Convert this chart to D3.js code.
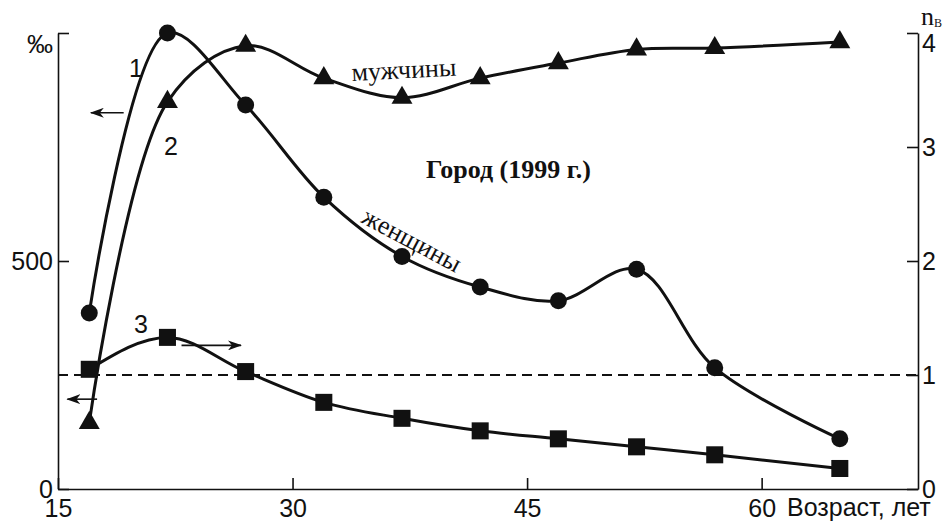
<!DOCTYPE html>
<html lang="ru">
  <head>
    <meta charset="UTF-8" />
    <title>Город (1999 г.)</title>
    <script src="https://d3js.org/d3.v7.min.js"></script>
    <style>
      body { margin: 0; background: #fff; }
      text { fill: #111; }
    </style>
  </head>
  <body>
    <svg width="947" height="524"></svg>
    <script>
      // ages (x) shared by all three curves
      const ages = [17, 22, 27, 32, 37, 42, 47, 52, 57, 65];
      // curve 1, women, ‰ (left axis)
      const women = [386, 1000, 842, 640, 510, 443, 413, 482, 266, 110];
      // curve 2, men, ‰ (left axis)
      const men = [145, 849, 972, 901, 858, 901, 934, 964, 967, 980];
      // curve 3, n_B (right axis)
      const nB = [1.05, 1.33, 1.03, 0.76, 0.62, 0.51, 0.44, 0.37, 0.3, 0.18];

      const xTicks = [15, 30, 45, 60];
      const leftTicks = [0, 500, 1000];
      const rightTicks = [0, 1, 2, 3, 4];

      const svg = d3.select("svg");
      const sans = "'Liberation Sans', Arial, sans-serif";
      const serif = "'Liberation Serif', 'Times New Roman', serif";

      const x = d3.scaleLinear().domain([15, 70]).range([58, 918]);
      const yL = d3.scaleLinear().domain([0, 1000]).range([489, 33]);
      const yR = d3.scaleLinear().domain([0, 4]).range([489, 33]);

      // axes
      const styleAxis = (g) => {
        g.selectAll("path, line").attr("stroke", "#111").attr("stroke-width", 1.6);
        g.selectAll("text").attr("font-family", sans).attr("font-size", 25).attr("fill", "#111");
      };

      svg.append("g")
        .attr("transform", "translate(0,489)")
        .call(d3.axisBottom(x).tickValues(xTicks).tickSizeInner(-11).tickSizeOuter(0).tickPadding(10))
        .call(styleAxis);

      svg.append("g")
        .attr("transform", "translate(58,0)")
        .call(d3.axisLeft(yL).tickValues(leftTicks).tickSizeInner(-11).tickSizeOuter(0).tickPadding(5)
          .tickFormat((d) => (d === 1000 ? "" : d)))
        .call(styleAxis);

      svg.append("g")
        .attr("transform", "translate(918,0)")
        .call(d3.axisRight(yR).tickValues(rightTicks).tickSizeInner(-11).tickSizeOuter(0).tickPadding(4)
          .tickFormat(d3.format("d")))
        .call(styleAxis)
        .selectAll(".tick text")
        .filter((d) => d === 4)
        .attr("dy", "0.75em");

      // dashed reference line n_B = 1
      svg.append("line")
        .attr("x1", x(15)).attr("x2", x(70))
        .attr("y1", yR(1)).attr("y2", yR(1))
        .attr("stroke", "#111")
        .attr("stroke-width", 2)
        .attr("stroke-dasharray", "10,6");

      // curves
      const lineL = d3.line().x((d, i) => x(ages[i])).y((d) => yL(d)).curve(d3.curveCatmullRom.alpha(0.5));
      const lineR = d3.line().x((d, i) => x(ages[i])).y((d) => yR(d)).curve(d3.curveMonotoneX);

      [women, men].forEach((s) => {
        svg.append("path").datum(s)
          .attr("fill", "none").attr("stroke", "#111").attr("stroke-width", 3)
          .attr("d", lineL);
      });
      svg.append("path").datum(nB)
        .attr("fill", "none").attr("stroke", "#111").attr("stroke-width", 3)
        .attr("d", lineR);

      // markers
      svg.append("g").selectAll("circle").data(women).join("circle")
        .attr("cx", (d, i) => x(ages[i])).attr("cy", (d) => yL(d))
        .attr("r", 8.5).attr("fill", "#111");

      svg.append("g").selectAll("path").data(men).join("path")
        .attr("transform", (d, i) => `translate(${x(ages[i])},${yL(d)})`)
        .attr("d", d3.symbol(d3.symbolTriangle, 190))
        .attr("fill", "#111");

      svg.append("g").selectAll("path").data(nB).join("path")
        .attr("transform", (d, i) => `translate(${x(ages[i])},${yR(d)})`)
        .attr("d", d3.symbol(d3.symbolSquare, 290))
        .attr("fill", "#111");

      // arrows
      const defs = svg.append("defs");
      defs.append("marker")
        .attr("id", "head").attr("viewBox", "0 0 14 10")
        .attr("refX", 13).attr("refY", 5)
        .attr("markerWidth", 14).attr("markerHeight", 10)
        .attr("markerUnits", "userSpaceOnUse").attr("orient", "auto")
        .append("path").attr("d", "M0,0 L14,5 L0,10 L4,5 Z").attr("fill", "#111");

      const arrows = [
        { x1: 19.2, x2: 17.1, y: yL(825) },
        { x1: 17.5, x2: 15.6, y: yL(197) },
        { x1: 22.9, x2: 26.7, y: yR(1.26) },
      ];
      svg.append("g").selectAll("line").data(arrows).join("line")
        .attr("x1", (d) => x(d.x1)).attr("x2", (d) => x(d.x2))
        .attr("y1", (d) => d.y).attr("y2", (d) => d.y)
        .attr("stroke", "#111").attr("stroke-width", 1.6)
        .attr("marker-end", "url(#head)");

      // text labels
      const label = (t, px, py, size, fam, extra) => {
        const el = svg.append("text").attr("x", px).attr("y", py)
          .attr("font-size", size).attr("font-family", fam).text(t);
        if (extra) extra(el);
        return el;
      };
      label("1", 129, 77, 25, sans);
      label("2", 164, 155, 25, sans);
      label("3", 134, 333, 25, sans);
      label("‰", 27, 53, 26, sans);
      label("Возраст, лет", 787, 516, 25, sans);
      label("Город (1999 г.)", 426, 178, 26, serif, (el) => el.attr("font-weight", "bold"));
      label("мужчины", 352, 81, 26, serif, (el) => el.attr("transform", "rotate(-3 352 81)"));
      label("женщины", 360, 222, 26, serif, (el) => el.attr("transform", "rotate(28 360 222)"));

      const nb = svg.append("text").attr("x", 921).attr("y", 25)
        .attr("font-family", serif).attr("font-size", 26).text("n");
      nb.append("tspan").attr("font-size", 12).attr("dy", 2).text("В");
    </script>
  </body>
</html>
